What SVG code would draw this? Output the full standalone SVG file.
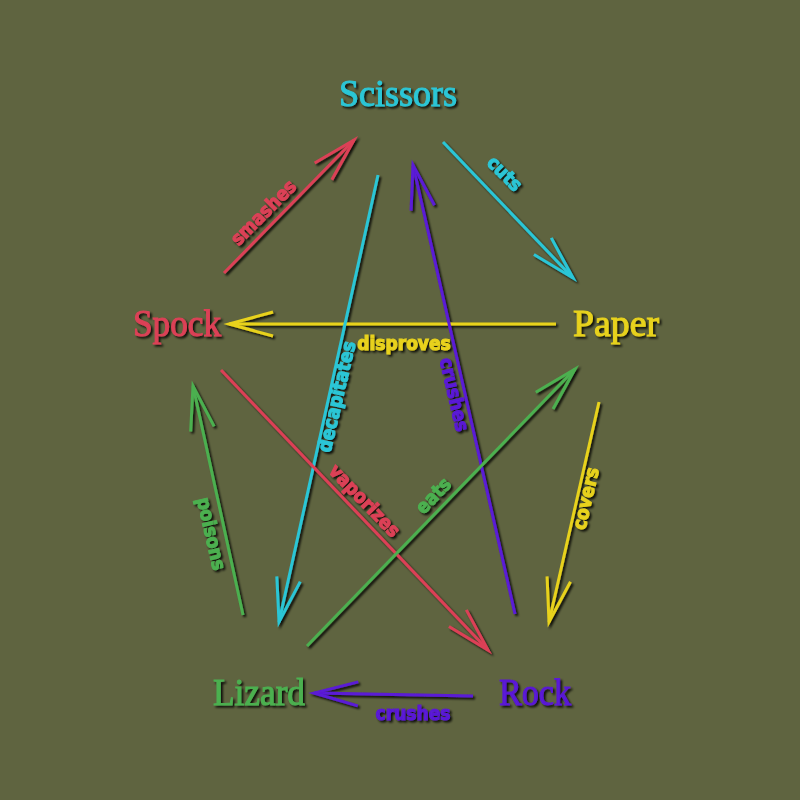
<svg xmlns="http://www.w3.org/2000/svg" width="800" height="800" viewBox="0 0 800 800">
<defs>
<filter id="sh" x="-20%" y="-20%" width="140%" height="140%"><feDropShadow dx="2" dy="2" stdDeviation="0.8" flood-color="#000" flood-opacity="0.85"/></filter>
<marker id="mR" markerUnits="userSpaceOnUse" markerWidth="60" markerHeight="60" refX="0" refY="0" viewBox="-45 -30 60 60" orient="auto" overflow="visible"><path d="M-44,-12 L0,0 L-44,12" fill="none" stroke="#dc4157" stroke-width="3"/></marker>
<marker id="mC" markerUnits="userSpaceOnUse" markerWidth="60" markerHeight="60" refX="0" refY="0" viewBox="-45 -30 60 60" orient="auto" overflow="visible"><path d="M-44,-12 L0,0 L-44,12" fill="none" stroke="#2cc6d6" stroke-width="3"/></marker>
<marker id="mY" markerUnits="userSpaceOnUse" markerWidth="60" markerHeight="60" refX="0" refY="0" viewBox="-45 -30 60 60" orient="auto" overflow="visible"><path d="M-44,-12 L0,0 L-44,12" fill="none" stroke="#e8d21c" stroke-width="3"/></marker>
<marker id="mP" markerUnits="userSpaceOnUse" markerWidth="60" markerHeight="60" refX="0" refY="0" viewBox="-45 -30 60 60" orient="auto" overflow="visible"><path d="M-44,-12 L0,0 L-44,12" fill="none" stroke="#5a1ad6" stroke-width="3"/></marker>
<marker id="mG" markerUnits="userSpaceOnUse" markerWidth="60" markerHeight="60" refX="0" refY="0" viewBox="-45 -30 60 60" orient="auto" overflow="visible"><path d="M-44,-12 L0,0 L-44,12" fill="none" stroke="#4cb050" stroke-width="3"/></marker>
</defs>
<style>
.l{fill:none;stroke-width:3}
.n{font-family:"Liberation Serif",serif;font-size:38px;text-anchor:middle}
.e{font-family:"DejaVu Sans Condensed","DejaVu Sans",sans-serif;font-size:19px;font-weight:bold;text-anchor:middle}
.r{stroke:#dc4157;fill:#dc4157}.c{stroke:#2cc6d6;fill:#2cc6d6}.y{stroke:#e8d21c;fill:#e8d21c}.p{stroke:#5a1ad6;fill:#5a1ad6}.g{stroke:#4cb050;fill:#4cb050}
text{stroke:none}
</style>
<rect width="800" height="800" fill="#5f6440"/>
<g id="connectors" filter="url(#sh)">
<line class="l r" x1="224" y1="273" x2="354" y2="140" marker-end="url(#mR)"/>
<line class="l c" x1="443" y1="142" x2="573" y2="278" marker-end="url(#mC)"/>
<line class="l y" x1="556" y1="324" x2="229" y2="324" marker-end="url(#mY)"/>
<line class="l c" x1="378" y1="175" x2="279" y2="622" marker-end="url(#mC)"/>
<line class="l p" x1="515" y1="614" x2="413" y2="165" marker-end="url(#mP)"/>
<line class="l r" x1="221" y1="370" x2="488" y2="650" marker-end="url(#mR)"/>
<line class="l g" x1="307" y1="646" x2="575" y2="369" marker-end="url(#mG)"/>
<line class="l g" x1="243" y1="615" x2="193" y2="386" marker-end="url(#mG)"/>
<line class="l y" x1="599" y1="402" x2="549" y2="622" marker-end="url(#mY)"/>
<line class="l p" x1="473" y1="696" x2="314" y2="693" marker-end="url(#mP)"/>
<text class="e r" transform="translate(268,217) rotate(-45)">smashes</text>
<text class="e c" transform="translate(500,178) rotate(45)">cuts</text>
<text class="e y" x="404" y="350">disproves</text>
<text class="e c" transform="translate(343,398) rotate(-77)">decapitates</text>
<text class="e p" transform="translate(448,396) rotate(77)">crushes</text>
<text class="e r" transform="translate(360,505) rotate(46)">vaporizes</text>
<text class="e g" transform="translate(438,500) rotate(-46)">eats</text>
<text class="e g" transform="translate(205,535) rotate(77)">poisons</text>
<text class="e y" transform="translate(592,500) rotate(-77)">covers</text>
<text class="e p" x="413" y="720">crushes</text>
</g>
<g id="scissors" filter="url(#sh)"><text class="n c" x="398" y="106" textLength="118" lengthAdjust="spacingAndGlyphs">Scissors</text></g>
<g id="spock" filter="url(#sh)"><text class="n r" x="177" y="336" textLength="88" lengthAdjust="spacingAndGlyphs">Spock</text></g>
<g id="paper" filter="url(#sh)"><text class="n y" x="616" y="336" textLength="86" lengthAdjust="spacingAndGlyphs">Paper</text></g>
<g id="lizard" filter="url(#sh)"><text class="n g" x="259" y="705" textLength="92" lengthAdjust="spacingAndGlyphs">Lizard</text></g>
<g id="rock" filter="url(#sh)"><text class="n p" x="535" y="705" textLength="72" lengthAdjust="spacingAndGlyphs">Rock</text></g>
</svg>
